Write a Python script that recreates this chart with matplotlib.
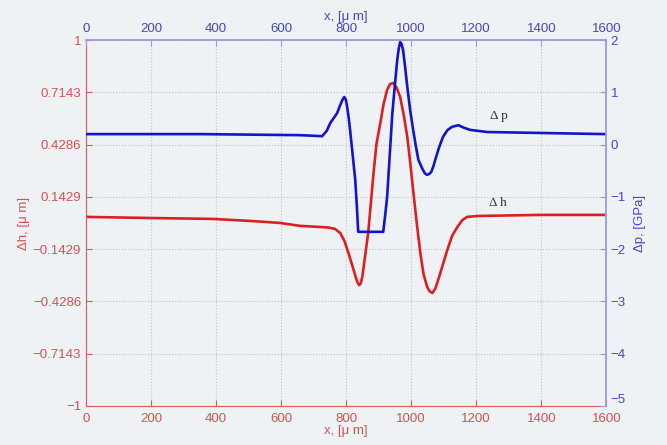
import numpy as np
import matplotlib.pyplot as plt

plt.rcParams['font.family'] = ['Liberation Sans', 'DejaVu Sans']

# Профиль деформации Δh (мкм) вдоль координаты x (мкм)
x_h = [0, 197, 391, 505, 597, 658, 720, 745, 765, 782, 795, 808, 820, 830,
       836, 840, 845, 850, 856, 862, 868, 875, 883, 893, 905, 915, 926, 935,
       945, 955, 966, 977, 988, 997, 1006, 1017, 1028, 1038, 1049, 1057,
       1065, 1074, 1083, 1097, 1111, 1126, 1142, 1157, 1172, 1203, 1397, 1600]
dh = [0.033, 0.027, 0.022, 0.011, 0.0, -0.016, -0.022, -0.025, -0.032,
      -0.055, -0.10, -0.17, -0.24, -0.30, -0.33, -0.34, -0.33, -0.29, -0.21,
      -0.13, -0.049, 0.09, 0.251, 0.43, 0.546, 0.65, 0.727, 0.76, 0.765,
      0.74, 0.689, 0.59, 0.47, 0.33, 0.18, 0.0, -0.164, -0.28, -0.35, -0.375,
      -0.383, -0.36, -0.311, -0.23, -0.148, -0.07, -0.022, 0.015, 0.033,
      0.038, 0.044, 0.044]

# Распределение давления Δp (ГПа)
x_p = [0, 351, 658, 726, 740, 751, 762, 772, 782, 788, 794, 799, 803, 808,
       812, 820, 828, 833, 837, 914, 920, 926, 934, 942, 950, 957, 962, 966,
       970, 975, 981, 988, 997, 1006, 1014, 1022, 1034, 1042, 1049, 1056,
       1062, 1068, 1074, 1086, 1098, 1112, 1126, 1145, 1163, 1182, 1234, 1600]
dp = [0.20, 0.20, 0.18, 0.16, 0.26, 0.41, 0.51, 0.60, 0.76, 0.85, 0.91,
      0.86, 0.72, 0.50, 0.28, -0.20, -0.68, -1.20, -1.67, -1.67, -1.35,
      -1.00, -0.20, 0.60, 1.15, 1.62, 1.85, 1.96, 1.93, 1.81, 1.50, 1.10,
      0.65, 0.28, -0.02, -0.29, -0.46, -0.55, -0.58, -0.56, -0.52, -0.42,
      -0.29, -0.05, 0.15, 0.28, 0.34, 0.37, 0.32, 0.28, 0.24, 0.20]

x_ticks = [0, 200, 400, 600, 800, 1000, 1200, 1400, 1600]
h_ticks = [-1, -0.7143, -0.4286, -0.1429, 0.1429, 0.4286, 0.7143, 1]
h_labels = ['\u22121', '\u22120.7143', '\u22120.4286', '\u22120.1429',
            '0.1429', '0.4286', '0.7143', '1']
p_ticks = [-5, -4, -3, -2, -1, 0, 1, 2]

bg = '#eef2f5'
red_txt = '#d85050'
blue_txt = '#4646c8'
red_ax = '#d85a5a'
blue_ax = '#9a9ad8'

fig = plt.figure(figsize=(6.67, 4.45), dpi=100, facecolor=bg)
pos = [0.129, 0.088, 0.780, 0.822]

# Левая ось: Δh
ax1 = fig.add_axes(pos, facecolor=bg)
ax1.plot(x_h, dh, color='#dc2020', lw=1.9)
ax1.set_xlim(0, 1600)
ax1.set_ylim(-1, 1)
ax1.set_xticks(x_ticks)
ax1.set_yticks(h_ticks)
ax1.set_yticklabels(h_labels)
ax1.grid(True, color='#bcc2cc', linestyle=':', lw=0.8)
ax1.tick_params(direction='in', length=4, colors=red_ax, labelcolor=red_txt,
                labelsize=9.5)
ax1.tick_params(axis='x', pad=5)
ax1.set_ylabel('\u0394h, [\u03bc m]', color=red_txt, fontsize=9.5, labelpad=2)
ax1.set_xlabel('x, [\u03bc m]', color=red_txt, fontsize=9.5, labelpad=0)
for s in ['top', 'right']:
    ax1.spines[s].set_visible(False)
for s in ['left', 'bottom']:
    ax1.spines[s].set_color(red_ax)

# Правая ось: Δp
ax2 = fig.add_axes(pos, facecolor='none')
ax2.plot(x_p, dp, color='#1414c8', lw=1.9)
ax2.set_xlim(0, 1600)
ax2.set_ylim(-5, 2)
ax2.set_xticks(x_ticks)
ax2.set_yticks(p_ticks)
ax2.set_yticklabels([str(t).replace('-', '\u2212') for t in p_ticks])
ax2.xaxis.tick_top()
ax2.xaxis.set_label_position('top')
ax2.yaxis.tick_right()
ax2.yaxis.set_label_position('right')
ax2.tick_params(direction='in', length=4, colors=blue_ax, labelcolor=blue_txt,
                labelsize=9.5)
ax2.tick_params(axis='y', pad=3)
ax2.set_ylabel('\u0394p, [GPa]', color=blue_txt, fontsize=9.5, labelpad=6)
ax2.set_xlabel('x, [\u03bc m]', color=blue_txt, fontsize=9.5, labelpad=2)
for s in ['left', 'bottom']:
    ax2.spines[s].set_visible(False)
for s in ['top', 'right']:
    ax2.spines[s].set_color(blue_ax)
    ax2.spines[s].set_linewidth(1.3)

# Нижнюю подпись правой оси чуть приподнимаем, чтобы не налезала на 1600
ax2.get_yticklabels()[0].set_verticalalignment('bottom')

# Подписи кривых
ax2.text(1270, 0.55, '\u0394 p', family=['Liberation Serif', 'DejaVu Serif'],
         fontsize=9.5, color='#303030', ha='center', va='center')
ax1.text(1268, 0.11, '\u0394 h', family=['Liberation Serif', 'DejaVu Serif'],
         fontsize=9.5, color='#303030', ha='center', va='center')

fig.savefig('out.png', dpi=100, facecolor=bg)
